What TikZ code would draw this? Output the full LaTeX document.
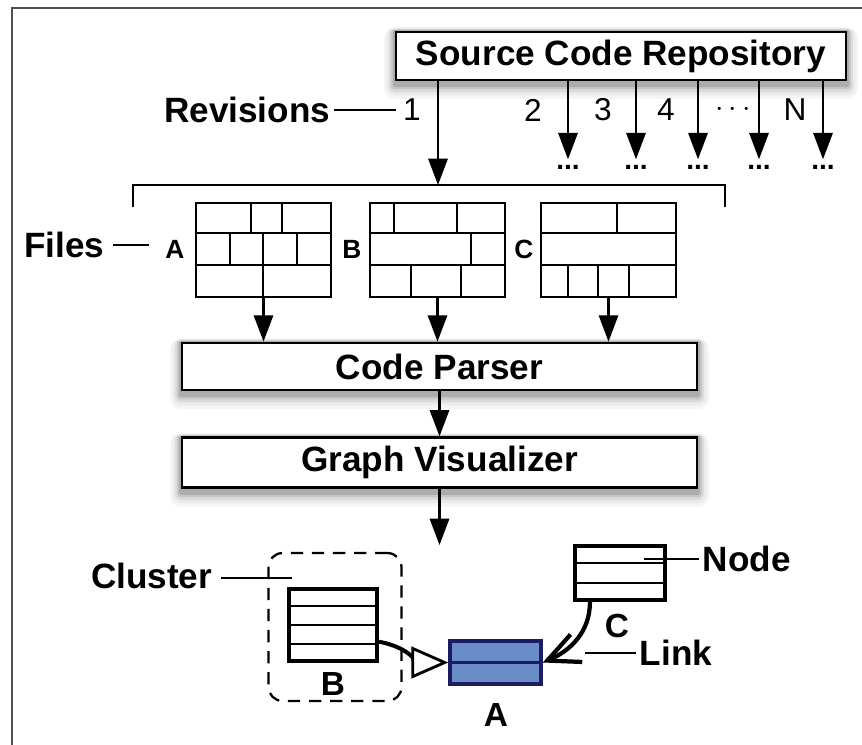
\documentclass[tikz,border=0pt]{standalone}
\usepackage{fontspec}
\setmainfont{Liberation Sans}
\usepackage{xcolor}
\usetikzlibrary{arrows.meta, positioning, calc, backgrounds}
\definecolor{navy}{HTML}{1A1E5E}
\definecolor{linkblue}{HTML}{6A8CC8}
\definecolor{framegray}{HTML}{505050}

\begin{document}
\begin{tikzpicture}[x=0.02cm,y=-0.02cm]
 \tikzstyle{stagebox}=[rectangle,draw=black,line width=1.6pt,fill=white,
   minimum width=10.3cm,minimum height=.94cm,inner sep=0pt,
   font=\bfseries\fontsize{20}{24}\selectfont]
 \tikzstyle{filebox}=[rectangle,draw=black,line width=1.4pt,
   minimum width=2.7cm,minimum height=1.88cm,inner sep=0pt]
 \tikzstyle{graphnode}=[rectangle,draw=black,line width=2.3pt,fill=white,inner sep=0pt]
 \tikzstyle{lbl}=[font=\bfseries\fontsize{20}{24}\selectfont,inner sep=2pt]
 \tikzstyle{flabel}=[font=\bfseries\fontsize{15}{18}\selectfont,inner sep=1pt]
 \tikzstyle{glabel}=[font=\bfseries\fontsize{19}{22}\selectfont,inner sep=1pt]
 \tikzstyle{revnum}=[font=\fontsize{18}{20}\selectfont,inner sep=0pt]
 \tikzstyle{dotlbl}=[font=\bfseries\fontsize{16}{18}\selectfont,inner sep=3pt]
 \tikzstyle{flow}=[-{Triangle[length=15pt,width=11pt]},line width=1.2pt]
 \tikzstyle{pointer}=[line width=1.1pt]

 \useasboundingbox (0,0) rectangle (862,744);
 \draw[framegray,line width=1.2pt] (12,760) -- (12,8) -- (880,8);

 % repository and revisions
 \node (repo) [stagebox,minimum width=9cm,minimum height=.96cm] at (621,56)
   {Source Code Repository};
 \node (rev1) [revnum] at (412,110) {1};
 \node (revlbl) [lbl,anchor=east] at (334,110) {Revisions};
 \draw[pointer] (revlbl.east) -- ([xshift=-4pt]rev1.west);
 \foreach \i/\x/\lx/\t in {2/568/533/2,3/636/603/3,4/698/666/4,
     5/759/733/{$\cdots$},6/823/795/N} {
   \node (end\i) [dotlbl] at (\x,167) {...};
   \draw[flow] (repo.south -| end\i) -- (end\i.north);
   \node [revnum] at (\lx,110) {\t};
 }
 \coordinate (brk) at (438,185);
 \draw[flow] (repo.south -| brk) -- (brk);
 \draw[line width=1.2pt] (133,207) |- (brk) -| (725,207);

 % files of one revision
 \node (filea) [filebox] at (263.5,250) {};
 \node (fileb) [filebox] at (437.5,250) {};
 \node (filec) [filebox] at (608.5,250) {};
 \begin{scope}[shift={(filea.north west)},line width=1.4pt]
  \draw (0,31) -- (135,31) (0,63) -- (135,63);
  \draw (56,0) -- (56,31) (87,0) -- (87,31);
  \draw (35,31) -- (35,63) (68,31) -- (68,63) (102,31) -- (102,63);
  \draw (68,63) -- (68,94);
 \end{scope}
 \begin{scope}[shift={(fileb.north west)},line width=1.4pt]
  \draw (0,31) -- (135,31) (0,63) -- (135,63);
  \draw (25,0) -- (25,31) (88,0) -- (88,31);
  \draw (102,31) -- (102,63);
  \draw (42,63) -- (42,94) (92,63) -- (92,94);
 \end{scope}
 \begin{scope}[shift={(filec.north west)},line width=1.4pt]
  \draw (0,31) -- (135,31) (0,63) -- (135,63);
  \draw (77,0) -- (77,31);
  \draw (28,63) -- (28,94) (58,63) -- (58,94) (89,63) -- (89,94);
 \end{scope}
 \node (laba) [flabel] at (175,249) {A};
 \node (labb) [flabel] at (352,249) {B};
 \node (labc) [flabel] at (524,249) {C};
 \node (filesl) [lbl,anchor=east] at (108,245) {Files};
 \draw[pointer] ([xshift=3pt]filesl.east) -- ([xshift=-8pt]filesl.east -| laba.west);

 % processing
 \node (parser) [stagebox] at (439.5,366.5) {Code Parser};
 \node (vis) [stagebox,below=.9cm of parser,minimum height=1cm] {Graph Visualizer};
 \draw[flow] (filea.south) -- (filea.south |- parser.north);
 \draw[flow] (fileb.south) -- (fileb.south |- parser.north);
 \draw[flow] (filec.south) -- (filec.south |- parser.north);
 \draw[flow] (parser) -- (vis);
 \coordinate (graphtop) at (439.5,545);
 \draw[flow] (vis) -- (graphtop);

 % soft shadows under the stage boxes
 \begin{scope}[on background layer]
  \foreach \n in {repo,parser,vis}
   \foreach \g/\dx/\dy in {4/6/10,8/4.5/8,14/3.2/6.2,22/2/4.6,32/1/3.2}
    \fill[black!\g,rounded corners=\dx pt]
      ([xshift=-\dx pt,yshift=-\dy pt]\n.south west)
      rectangle ([xshift=\dx pt,yshift=.3*\dx pt]\n.north east);
 \end{scope}

 % resulting graph
 \node (cluster) [draw,dash pattern=on 7pt off 5pt,rounded corners=8pt,line width=1.3pt,
   minimum width=2.66cm,minimum height=2.96cm] at (335,627) {};
 \node (nodeb) [graphnode,minimum width=1.76cm,minimum height=1.44cm] at (333,625) {};
 \node (nodec) [graphnode,minimum width=1.8cm,minimum height=1.08cm] at (620,573) {};
 \node (nodea) [graphnode,draw=navy,fill=linkblue,line width=2pt,
   minimum width=1.82cm,minimum height=.86cm] at (495.5,662.5) {};
 \foreach \f in {0.25,0.5,0.75}
   \draw[line width=1.2pt] ($(nodeb.north west)!\f!(nodeb.south west)$)
     -- ($(nodeb.north east)!\f!(nodeb.south east)$);
 \foreach \f in {0.3333,0.6667}
   \draw[line width=1.2pt] ($(nodec.north west)!\f!(nodec.south west)$)
     -- ($(nodec.north east)!\f!(nodec.south east)$);
 \draw[navy,line width=1.8pt] (nodea.west) -- (nodea.east);
 \node (lb) [glabel] at (333,684) {B};
 \node (lc) [glabel] at (617,626) {C};
 \node (la) [glabel] at (496,715) {A};

 \draw[line width=2.3pt,-{Triangle[length=21pt,width=18pt,fill=white,line width=1.6pt]}]
   (nodeb.-20) to[out=-10,in=180] (nodea.west);
 \draw[line width=2.4pt,-{Straight Barb[length=18pt,width=17pt]}]
   (nodec.-136) to[out=-90,in=23] (nodea.east);

 \node (clusterl) [lbl,anchor=east] at (216,576) {Cluster};
 \coordinate (clusterpt) at (292,578);
 \draw[pointer] ([xshift=3pt]clusterl.east |- clusterpt) -- (clusterpt);
 \coordinate (nodept) at (644,559);
 \node (nodel) [lbl,anchor=west] at (699,559) {Node};
 \draw[pointer] (nodept) -- (nodel.west);
 \coordinate (linkpt) at (585,653);
 \node (linkl) [lbl,anchor=west] at (636,653) {Link};
 \draw[pointer] (linkpt) -- (linkl.west);
\end{tikzpicture}
\end{document}
